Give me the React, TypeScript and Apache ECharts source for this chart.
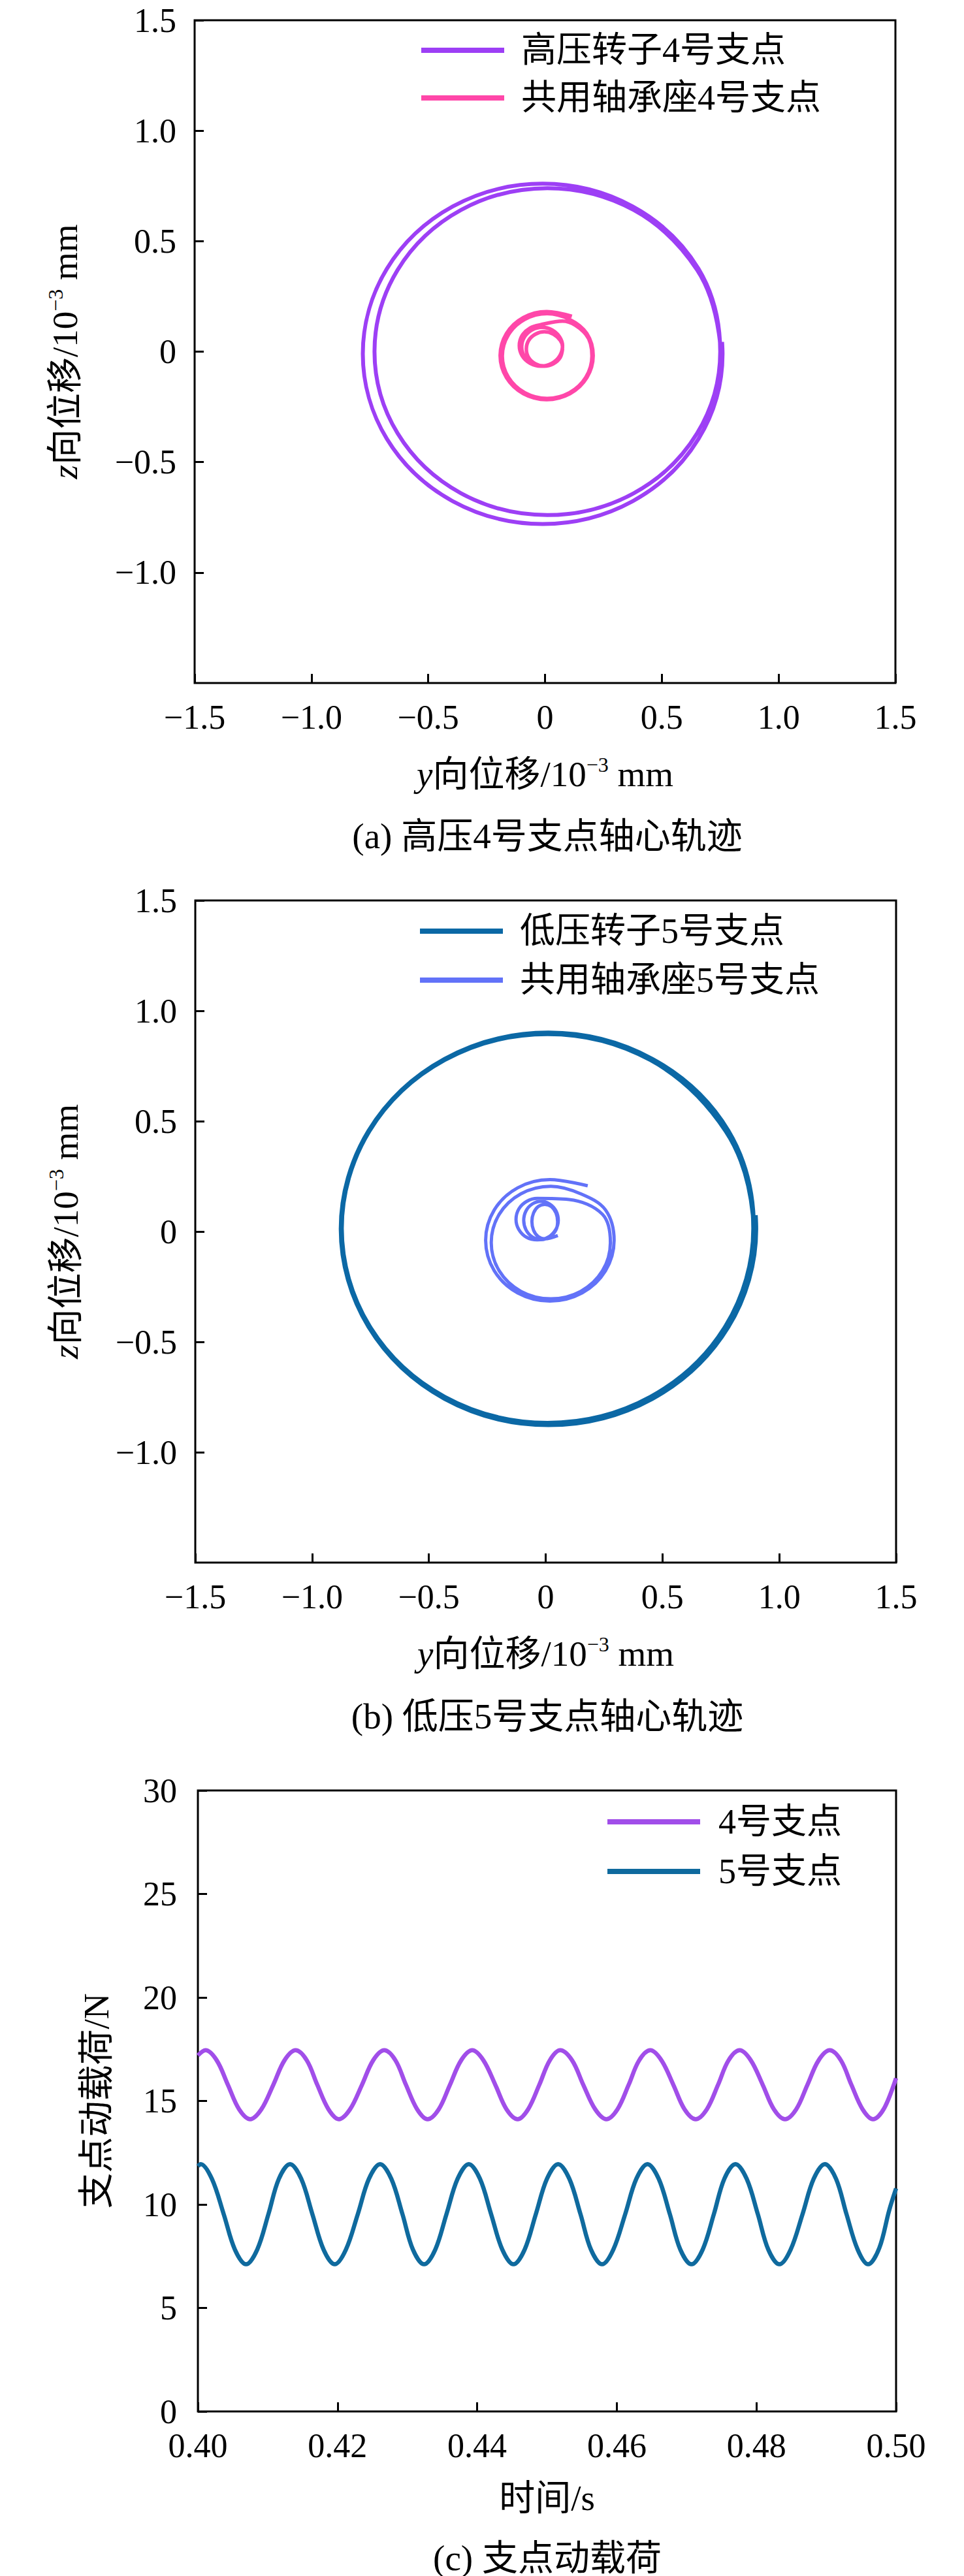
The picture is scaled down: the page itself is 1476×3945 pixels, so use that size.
import React, { useEffect, useRef } from 'react';
import * as echarts from 'echarts';

const FONT = "'Liberation Serif', 'Times New Roman', 'Noto Sans CJK SC', serif";

// ---------- (a) 高压4号支点轴心轨迹 : [y, z] in 10^-3 mm ----------
const hpRotor4: number[][] = [
  [0.758, 0.044], [0.760, -0.010], [0.657, -0.395], [0.375, -0.677], [-0.010, -0.780], [-0.395, -0.677],
  [-0.677, -0.395], [-0.780, -0.010], [-0.677, 0.375], [-0.395, 0.657], [-0.010, 0.760], [0.375, 0.657],
  [0.657, 0.375],
  [0.750, 0.000], [0.651, -0.370], [0.380, -0.641], [0.010, -0.740], [-0.360, -0.641], [-0.631, -0.370],
  [-0.730, 0.000], [-0.631, 0.370], [-0.360, 0.641], [0.010, 0.740], [0.380, 0.641], [0.651, 0.370],
  [0.748, 0.052], [0.750, 0.000],
];

const seat4: number[][] = [
  [0.075, 0.012], [0.065, -0.027], [0.036, -0.055], [-0.003, -0.066], [-0.041, -0.055], [-0.070, -0.027],
  [-0.080, 0.012], [-0.070, 0.051], [-0.041, 0.079], [-0.003, 0.090], [0.036, 0.079], [0.065, 0.051],
  [0.075, 0.022], [0.063, -0.022], [0.031, -0.054], [-0.013, -0.066], [-0.056, -0.054], [-0.088, -0.022],
  [-0.100, 0.022], [-0.088, 0.066], [-0.056, 0.098], [-0.013, 0.110], [0.031, 0.098], [0.063, 0.066],
  [0.075, 0.027], [0.063, -0.019], [0.029, -0.053], [-0.018, -0.066], [-0.064, -0.053], [-0.098, -0.019],
  [-0.110, 0.027], [-0.098, 0.073], [-0.064, 0.107], [-0.018, 0.122],
  [0.075, 0.138],
  [0.175, 0.078], [0.201, -0.020], [0.175, -0.116], [0.105, -0.186], [0.009, -0.212], [-0.087, -0.186],
  [-0.157, -0.116], [-0.183, -0.020], [-0.157, 0.076], [-0.087, 0.146], [0.009, 0.172], [0.105, 0.146],
  [0.179, 0.082], [0.206, -0.018], [0.179, -0.118], [0.107, -0.190], [0.007, -0.217], [-0.093, -0.190],
  [-0.165, -0.118], [-0.192, -0.018], [-0.165, 0.082], [-0.093, 0.154], [0.007, 0.181], [0.115, 0.160],
];

// ---------- (b) 低压5号支点轴心轨迹 ----------
const lpRotor5: number[][] = [
  [0.898, 0.074], [0.900, 0.012], [0.781, -0.432], [0.456, -0.757], [0.012, -0.876], [-0.432, -0.757],
  [-0.757, -0.432], [-0.876, 0.012], [-0.757, 0.456], [-0.432, 0.781], [0.012, 0.900], [0.456, 0.781],
  [0.781, 0.456],
  [0.890, 0.014], [0.772, -0.427], [0.449, -0.750], [0.008, -0.868], [-0.433, -0.750], [-0.756, -0.427],
  [-0.874, 0.014], [-0.756, 0.455], [-0.433, 0.778], [0.008, 0.896], [0.449, 0.778], [0.772, 0.455],
  [0.888, 0.076], [0.890, 0.014],
];

const seat5: number[][] = [
  [0.052, -0.018], [-0.004, -0.033], [-0.032, -0.023], [-0.052, 0.006], [-0.059, 0.045], [-0.052, 0.084],
  [-0.032, 0.113], [-0.004, 0.123], [0.024, 0.113], [0.044, 0.084], [0.051, 0.045],
  [0.044, 0.007], [0.017, -0.025], [-0.020, -0.037], [-0.057, -0.025], [-0.084, 0.007], [-0.094, 0.050],
  [-0.084, 0.094], [-0.057, 0.125], [-0.020, 0.137], [0.017, 0.125], [0.044, 0.094], [0.054, 0.050],
  [0.043, 0.009], [0.010, -0.026], [-0.036, -0.038], [-0.082, -0.026], [-0.115, 0.009], [-0.127, 0.055],
  [-0.115, 0.102], [-0.082, 0.136], [-0.036, 0.150],
  [0.100, 0.145],
  [0.243, 0.078], [0.277, -0.050], [0.243, -0.178], [0.150, -0.271], [0.022, -0.305], [-0.106, -0.271],
  [-0.199, -0.178], [-0.233, -0.050], [-0.199, 0.078], [-0.106, 0.171], [0.022, 0.205], [0.150, 0.171],
  [0.256, 0.098], [0.293, -0.040], [0.256, -0.178], [0.156, -0.278], [0.018, -0.315], [-0.120, -0.278],
  [-0.220, -0.178], [-0.257, -0.040], [-0.220, 0.098], [-0.120, 0.198], [0.018, 0.235], [0.180, 0.207],
];

// ---------- (c) 支点动载荷 : [time s, load N] ----------
const load4: number[][] = [
  [0.4000, 17.20], [0.4011, 17.45],
  [0.4027, 16.96], [0.4043, 15.78], [0.4059, 14.60], [0.4075, 14.12],
  [0.4091, 14.60], [0.4108, 15.78], [0.4124, 16.96], [0.4140, 17.45],
  [0.4156, 16.96], [0.4171, 15.78], [0.4187, 14.60], [0.4202, 14.12],
  [0.4218, 14.60], [0.4235, 15.78], [0.4251, 16.96], [0.4267, 17.45],
  [0.4283, 16.96], [0.4298, 15.78], [0.4314, 14.60], [0.4329, 14.12],
  [0.4345, 14.60], [0.4361, 15.78], [0.4377, 16.96], [0.4393, 17.45],
  [0.4409, 16.96], [0.4426, 15.78], [0.4442, 14.60], [0.4458, 14.12],
  [0.4473, 14.60], [0.4489, 15.78], [0.4504, 16.96], [0.4519, 17.45],
  [0.4536, 16.96], [0.4552, 15.78], [0.4569, 14.60], [0.4585, 14.12],
  [0.4601, 14.60], [0.4617, 15.78], [0.4632, 16.96], [0.4648, 17.45],
  [0.4664, 16.96], [0.4681, 15.78], [0.4697, 14.60], [0.4713, 14.12],
  [0.4729, 14.60], [0.4745, 15.78], [0.4760, 16.96], [0.4776, 17.45],
  [0.4792, 16.96], [0.4809, 15.78], [0.4825, 14.60], [0.4841, 14.12],
  [0.4857, 14.60], [0.4873, 15.78], [0.4889, 16.96], [0.4905, 17.45],
  [0.4921, 16.96], [0.4936, 15.78], [0.4952, 14.60], [0.4967, 14.12],
  [0.4983, 14.65], [0.5000, 16.10],
];

const load5: number[][] = [
  [0.4000, 11.85], [0.4004, 11.95],
  [0.4020, 11.24], [0.4037, 9.53], [0.4053, 7.82], [0.4069, 7.11],
  [0.4085, 7.82], [0.4101, 9.53], [0.4116, 11.24], [0.4132, 11.95],
  [0.4148, 11.24], [0.4164, 9.53], [0.4180, 7.82], [0.4196, 7.11],
  [0.4212, 7.82], [0.4229, 9.53], [0.4245, 11.24], [0.4261, 11.95],
  [0.4277, 11.24], [0.4293, 9.53], [0.4308, 7.82], [0.4324, 7.11],
  [0.4340, 7.82], [0.4356, 9.53], [0.4372, 11.24], [0.4388, 11.95],
  [0.4404, 11.24], [0.4420, 9.53], [0.4436, 7.82], [0.4452, 7.11],
  [0.4468, 7.82], [0.4484, 9.53], [0.4500, 11.24], [0.4516, 11.95],
  [0.4532, 11.24], [0.4548, 9.53], [0.4563, 7.82], [0.4579, 7.11],
  [0.4595, 7.82], [0.4612, 9.53], [0.4628, 11.24], [0.4644, 11.95],
  [0.4660, 11.24], [0.4676, 9.53], [0.4691, 7.82], [0.4707, 7.11],
  [0.4723, 7.82], [0.4739, 9.53], [0.4754, 11.24], [0.4770, 11.95],
  [0.4786, 11.24], [0.4802, 9.53], [0.4817, 7.82], [0.4833, 7.11],
  [0.4849, 7.82], [0.4866, 9.53], [0.4882, 11.24], [0.4898, 11.95],
  [0.4914, 11.24], [0.4929, 9.53], [0.4945, 7.82], [0.4960, 7.11],
  [0.4976, 7.90], [0.4990, 9.70], [0.5000, 10.77],
];

const legendA = ['高压转子4号支点', '共用轴承座4号支点'];
const legendB = ['低压转子5号支点', '共用轴承座5号支点'];
const legendC = ['4号支点', '5号支点'];
const captions = ['(a) 高压4号支点轴心轨迹', '(b) 低压5号支点轴心轨迹', '(c) 支点动载荷'];

const fmtOrbit = (v: number) => (v === 0 ? '0' : (v < 0 ? '\u2212' : '') + Math.abs(v).toFixed(1));
const fmtTime = (v: number) => v.toFixed(2);

const tick = { show: true, inside: true, length: 14, lineStyle: { color: '#000', width: 3 } };
const noLine = { show: false, onZero: false };
const labelBase = { fontSize: 52, lineHeight: 52, fontFamily: FONT, color: '#000' };
const nameStyle = {
  fontSize: 55,
  lineHeight: 60,
  fontFamily: FONT,
  color: '#000',
  rich: {
    i: { fontSize: 55, lineHeight: 60, fontFamily: FONT, fontStyle: 'italic', color: '#000' },
    sup: { fontSize: 32, lineHeight: 30, fontFamily: FONT, verticalAlign: 'top', color: '#000' },
  },
};

function legend(data: string[], left: number, top: number, itemWidth: number, gap: number, pad: number) {
  return {
    orient: 'vertical',
    left,
    top,
    itemWidth,
    itemHeight: 8,
    itemGap: gap,
    icon: 'rect',
    selectedMode: false,
    textStyle: { fontSize: 54, lineHeight: 56, fontFamily: FONT, color: '#000', padding: [0, 0, 0, pad] },
    data,
  };
}

function buildOption() {
  const grids = [
    { left: 298, top: 31, width: 1073, height: 1015 },
    { left: 299, top: 1379, width: 1073, height: 1014 },
    { left: 303, top: 2742, width: 1069, height: 951 },
  ].map((g) => ({ ...g, show: true, borderColor: '#000', borderWidth: 3, backgroundColor: 'transparent' }));

  const orbitX = (gi: number) => ({
    gridIndex: gi,
    type: 'value',
    min: -1.5,
    max: 1.5,
    interval: 0.5,
    axisLine: noLine,
    axisTick: tick,
    splitLine: { show: false },
    axisLabel: { ...labelBase, margin: 26, formatter: fmtOrbit },
    name: '{i|y}向位移/10{sup|\u22123} mm',
    nameLocation: 'middle',
    nameGap: 109,
    nameTextStyle: nameStyle,
  });
  const orbitY = (gi: number) => ({
    gridIndex: gi,
    type: 'value',
    min: -1.5,
    max: 1.5,
    interval: 0.5,
    axisLine: noLine,
    axisTick: tick,
    splitLine: { show: false },
    axisLabel: { ...labelBase, margin: 28, formatter: fmtOrbit, showMinLabel: false },
    name: '{i|z}向位移/10{sup|\u22123} mm',
    nameLocation: 'middle',
    nameRotate: 90,
    nameGap: 169,
    nameTextStyle: nameStyle,
  });

  const line = (name: string, data: number[][], color: string, gi: number, width: number) => ({
    name,
    type: 'line',
    xAxisIndex: gi,
    yAxisIndex: gi,
    data,
    smooth: 0.35,
    symbol: 'none',
    showSymbol: false,
    color,
    lineStyle: { color, width, cap: 'butt', join: 'round' },
    z: 3,
  });

  const captionY = [1280, 2628, 3917];

  return {
    animation: false,
    backgroundColor: '#fff',
    grid: grids,
    xAxis: [
      orbitX(0),
      orbitX(1),
      {
        gridIndex: 2,
        type: 'value',
        min: 0.4,
        max: 0.5,
        interval: 0.02,
        axisLine: noLine,
        axisTick: tick,
        splitLine: { show: false },
        axisLabel: { ...labelBase, margin: 26, formatter: fmtTime },
        name: '时间/s',
        nameLocation: 'middle',
        nameGap: 102,
        nameTextStyle: nameStyle,
      },
    ],
    yAxis: [
      orbitY(0),
      orbitY(1),
      {
        gridIndex: 2,
        type: 'value',
        min: 0,
        max: 30,
        interval: 5,
        axisLine: noLine,
        axisTick: tick,
        splitLine: { show: false },
        axisLabel: { ...labelBase, margin: 32, formatter: (v: number) => String(v) },
        name: '支点动载荷/N',
        nameLocation: 'middle',
        nameRotate: 90,
        nameGap: 126,
        nameTextStyle: nameStyle,
      },
    ],
    legend: [
      legend(legendA, 640, 44, 127, 17, 21),
      legend(legendB, 638, 1393, 127, 19, 21),
      legend(legendC, 925, 2757, 142, 20, 23),
    ],
    series: [
      line(legendA[0], hpRotor4, '#9d3ff5', 0, 6),
      line(legendA[1], seat4, '#ff47a9', 0, 5.5),
      line(legendB[0], lpRotor5, '#0b68a5', 1, 7),
      line(legendB[1], seat5, '#6272f8', 1, 5),
      line(legendC[0], load4, '#a14ee9', 2, 6.5),
      line(legendC[1], load5, '#0f6a9e', 2, 6.5),
    ],
    graphic: captions.map((text, i) => ({
      type: 'text',
      x: 838,
      y: captionY[i],
      style: {
        text,
        fontSize: 55,
        fontFamily: FONT,
        fill: '#000',
        textAlign: 'center',
        textVerticalAlign: 'middle',
        align: 'center',
        verticalAlign: 'middle',
      },
    })),
  };
}

export default function App() {
  const ref = useRef<HTMLDivElement>(null);
  useEffect(() => {
    if (!ref.current) return;
    const chart = echarts.init(ref.current, null, { renderer: 'svg' });
    chart.setOption(buildOption() as any);
    return () => chart.dispose();
  }, []);
  return (
    <div
      ref={ref}
      style={{ position: 'absolute', left: 0, top: 0, width: 1476, height: 3945, background: '#fff' }}
    />
  );
}
